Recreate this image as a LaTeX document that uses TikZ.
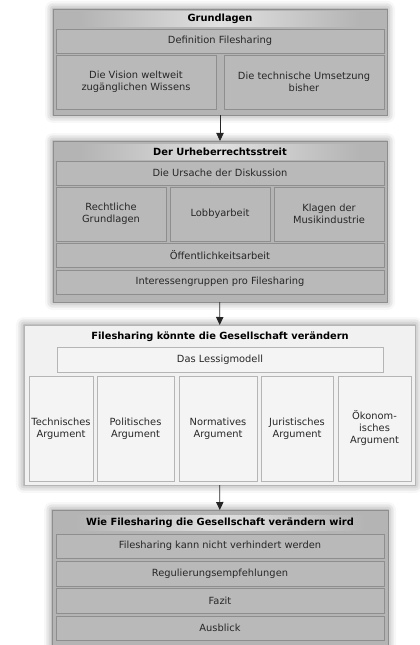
\documentclass[tikz,border=0pt]{standalone}
\usepackage{fontspec}
\setmainfont{DejaVu Sans}
\usetikzlibrary{arrows.meta,shadows.blur}

\definecolor{darkfill}{HTML}{B4B4B4}
\definecolor{darkline}{HTML}{8E8E8E}
\definecolor{cellfill}{HTML}{B9B9B9}
\definecolor{lightfill}{HTML}{F1F1F1}
\definecolor{lightline}{HTML}{B5B5B5}
\definecolor{lightcell}{HTML}{F4F4F4}

\tikzset{
  boxsize/.style 2 args={minimum width=#1*0.75pt, minimum height=#2*0.75pt},
  base/.style={inner sep=0pt, outer sep=0pt, align=center,
    font=\fontsize{7.4}{9}\selectfont, text=black!85},
  group/.style={base, fill=darkfill, draw=darkline, line width=0.5pt,
    blur shadow={shadow xshift=0pt, shadow yshift=0pt, shadow blur radius=6pt,
      shadow opacity=50}},
  lightgroup/.style={group, fill=lightfill, draw=lightline},
  cell/.style={base, fill=cellfill, draw=darkline, line width=0.6pt},
  lightcell/.style={base, fill=lightcell, draw=lightline, line width=0.6pt},
  title/.style={base, font=\fontsize{7.4}{9}\selectfont\bfseries, text=black},
  glow/.style={title, left color=darkfill, right color=darkfill, middle color=black!12},
  link/.style={-{Triangle[width=5.5pt,length=6pt]}, line width=0.6pt, black!85}
}

\begin{document}
\begin{tikzpicture}[x=0.75pt,y=-0.75pt]
	\useasboundingbox (0,0) rectangle (419,645);

	% Grundlagen
	\node[group, boxsize={334}{106}] (G) at (220,62) {};
	\node[glow, boxsize={280}{15}] (Gt) at (220,19) {Grundlagen};
	\node[cell, boxsize={328}{24}] (Gdef) at (220,41) {Definition Filesharing};
	\node[cell, boxsize={160}{54}] (Gvis) at (136,82) {Die Vision weltweit\\zugänglichen Wissens};
	\node[cell, boxsize={160}{54}] (Gtec) at (304,82) {Die technische Umsetzung\\bisher};

	% Urheberrechtsstreit
	\node[group, boxsize={334}{161}] (U) at (220,221.5) {};
	\node[glow, boxsize={280}{15}] (Ut) at (220,152) {Der Urheberrechtsstreit};
	\node[cell, boxsize={328}{24}] (Uurs) at (220,173) {Die Ursache der Diskussion};
	\node[cell, boxsize={110}{54}] (Urec) at (111,214) {Rechtliche\\Grundlagen};
	\node[cell, boxsize={100}{54}] (Ulob) at (220,214) {Lobbyarbeit};
	\node[cell, boxsize={110}{54}] (Ukla) at (329,214) {Klagen der\\Musikindustrie};
	\node[cell, boxsize={328}{24}] (Uoef) at (220,255) {Öffentlichkeitsarbeit};
	\node[cell, boxsize={328}{24}] (Uint) at (220,282) {Interessengruppen pro Filesharing};

	% Filesharing koennte
	\node[lightgroup, boxsize={391}{160}] (K) at (219.5,405) {};
	\node[title] (Kt) at (220,337) {Filesharing könnte die Gesellschaft verändern};
	\node[lightcell, boxsize={326}{25}] (Kles) at (220,359.5) {Das Lessigmodell};
	\node[lightcell, boxsize={64}{105}] (Ktec) at (61,428.5) {Technisches\\Argument};
	\node[lightcell, boxsize={77}{105}] (Kpol) at (135.5,428.5) {Politisches\\Argument};
	\node[lightcell, boxsize={78}{105}] (Knor) at (218,428.5) {Normatives\\Argument};
	\node[lightcell, boxsize={72}{105}] (Kjur) at (297,428.5) {Juristisches\\Argument};
	\node[lightcell, boxsize={73}{105}] (Koek) at (374.5,428.5) {Ökonom-\\isches\\Argument};

	% Wie Filesharing
	\node[group, boxsize={336}{140}] (W) at (220,580) {};
	\node[glow, boxsize={290}{15}] (Wt) at (220,523) {Wie Filesharing die Gesellschaft verändern wird};
	\node[cell, boxsize={328}{24}] (Wver) at (220,546) {Filesharing kann nicht verhindert werden};
	\node[cell, boxsize={328}{25}] (Wreg) at (220,573.5) {Regulierungsempfehlungen};
	\node[cell, boxsize={328}{25}] (Wfaz) at (220,600.5) {Fazit};
	\node[cell, boxsize={328}{24}] (Waus) at (220,628) {Ausblick};

	% Arrows
	\draw[link] (G) -- (U);
	\draw[link] (U) -- (K);
	\draw[link] (K) -- (W);
\end{tikzpicture}
\end{document}
